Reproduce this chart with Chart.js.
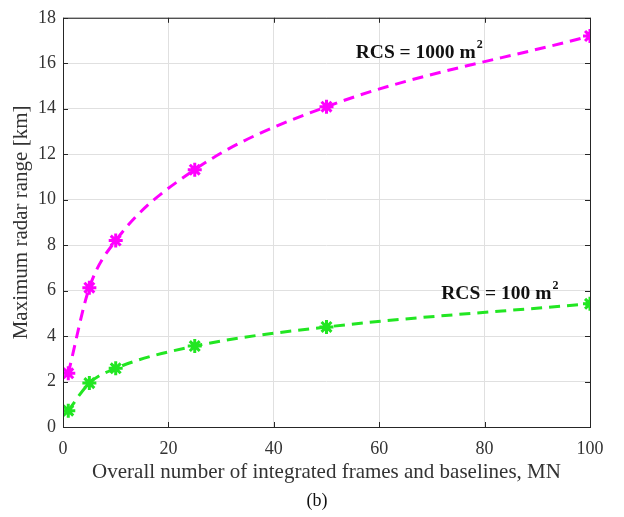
<!DOCTYPE html>
<html>
<head>
<meta charset="utf-8">
<script src="https://cdn.jsdelivr.net/npm/chart.js@4.4.1/dist/chart.umd.min.js"></script>
<style>
  html, body { margin: 0; padding: 0; background: #fff; }
  #wrap { width: 624px; height: 517px; }
</style>
</head>
<body>
<div id="wrap"><canvas id="chart"></canvas></div>
<script>
// data
const frames = [1, 5, 10, 25, 50, 100];
const range1000 = [2.36, 6.13, 8.2, 11.32, 14.09, 17.2];
const range100 = [0.72, 1.93, 2.58, 3.56, 4.4, 5.42];
const xTicks = [0, 20, 40, 60, 80, 100];
const yTicks = [0, 2, 4, 6, 8, 10, 12, 14, 16, 18];

const serif = "'Liberation Serif', 'Times New Roman', serif";
const textColor = "#333333";

const toPoints = (ys) => frames.map((x, i) => ({ x: x, y: ys[i] }));

// box on top/right with inward ticks, like matlab axes
const boxPlugin = {
  id: "box",
  afterDraw(chart) {
    const { ctx, chartArea: a, scales } = chart;
    ctx.save();
    ctx.strokeStyle = "#262626";
    ctx.lineWidth = 1;
    ctx.strokeRect(a.left + 0.5, a.top + 0.5, a.right - a.left, a.bottom - a.top);
    ctx.beginPath();
    xTicks.forEach((v) => {
      const px = Math.round(scales.x.getPixelForValue(v)) + 0.5;
      ctx.moveTo(px, a.bottom); ctx.lineTo(px, a.bottom - 5);
      ctx.moveTo(px, a.top); ctx.lineTo(px, a.top + 5);
    });
    yTicks.forEach((v) => {
      const py = Math.round(scales.y.getPixelForValue(v)) + 0.5;
      ctx.moveTo(a.left, py); ctx.lineTo(a.left + 5, py);
      ctx.moveTo(a.right, py); ctx.lineTo(a.right - 5, py);
    });
    ctx.stroke();
    ctx.restore();
  },
};

// curve labels and the "(b)" caption
const labelPlugin = {
  id: "labels",
  afterDraw(chart) {
    const { ctx, scales } = chart;
    const drawLabel = (main, sup, xv, yv) => {
      ctx.font = "bold 19.5px " + serif;
      const w = ctx.measureText(main).width;
      ctx.font = "bold 12px " + serif;
      const ws = ctx.measureText(sup).width;
      const cx = scales.x.getPixelForValue(xv);
      const cy = scales.y.getPixelForValue(yv);
      const x0 = cx - (w + ws) / 2;
      ctx.fillStyle = "#111";
      ctx.textBaseline = "middle";
      ctx.textAlign = "left";
      ctx.font = "bold 19.5px " + serif;
      ctx.fillText(main, x0, cy);
      ctx.font = "bold 12px " + serif;
      ctx.fillText(sup, x0 + w + 1, cy - 8);
    };
    ctx.save();
    drawLabel("RCS = 1000 m", "2", 67.5, 16.45);
    drawLabel("RCS = 100 m", "2", 82.8, 5.85);
    ctx.font = "18px " + serif;
    ctx.fillStyle = "#111";
    ctx.textAlign = "center";
    ctx.textBaseline = "middle";
    ctx.fillText("(b)", 317, 501);
    ctx.restore();
  },
};

new Chart(document.getElementById("chart"), {
  type: "line",
  data: {
    datasets: [
      {
        label: "RCS = 1000 m2",
        data: toPoints(range1000),
        borderColor: "#ff00ff",
        backgroundColor: "#ff00ff",
        pointBorderColor: "#ff00ff",
        borderWidth: 3,
        borderDash: [11, 7],
        cubicInterpolationMode: "monotone",
        pointStyle: "star",
        pointRadius: 7,
        pointBorderWidth: 3,
      },
      {
        label: "RCS = 100 m2",
        data: toPoints(range100),
        borderColor: "#22e622",
        backgroundColor: "#22e622",
        pointBorderColor: "#22e622",
        borderWidth: 3,
        borderDash: [11, 7],
        cubicInterpolationMode: "monotone",
        pointStyle: "star",
        pointRadius: 7,
        pointBorderWidth: 3,
      },
    ],
  },
  options: {
    responsive: true,
    maintainAspectRatio: false,
    animation: false,
    layout: { padding: { top: 12, right: 34, left: 0, bottom: 32 } },
    plugins: {
      legend: { display: false },
      tooltip: { enabled: false },
    },
    scales: {
      x: {
        type: "linear",
        min: 0,
        max: 100,
        afterBuildTicks: (s) => { s.ticks = xTicks.map((v) => ({ value: v })); },
        afterFit: (s) => { s.height = 58; },
        ticks: {
          color: textColor,
          padding: 11,
          font: { family: serif, size: 18 },
        },
        grid: { color: "#e0e0e0", drawTicks: false },
        border: { display: false },
        title: {
          display: true,
          text: "Overall number of integrated frames and baselines, MN",
          color: textColor,
          padding: { top: 0, bottom: 0 },
          font: { family: serif, size: 21 },
        },
      },
      y: {
        min: 0,
        max: 18,
        afterBuildTicks: (s) => { s.ticks = yTicks.map((v) => ({ value: v })); },
        afterFit: (s) => { s.width = 63; },
        ticks: {
          color: textColor,
          padding: 7,
          font: { family: serif, size: 18 },
        },
        grid: { color: "#e0e0e0", drawTicks: false },
        border: { display: false },
        title: {
          display: true,
          text: "Maximum radar range [km]",
          color: textColor,
          padding: { top: 9, bottom: 0 },
          font: { family: serif, size: 21 },
        },
      },
    },
  },
  plugins: [boxPlugin, labelPlugin],
});
</script>
</body>
</html>
